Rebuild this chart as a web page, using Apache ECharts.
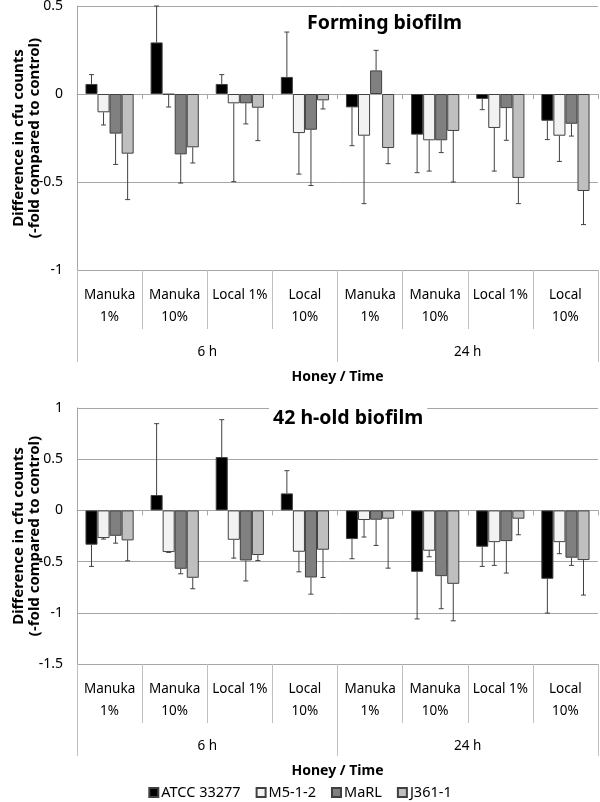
<!DOCTYPE html>
<html>
<head>
<meta charset="utf-8">
<script src="https://cdn.jsdelivr.net/npm/echarts@6/dist/echarts.min.js"></script>
<style>
html,body{margin:0;padding:0;background:#fff;}
#main{width:600px;height:802px;}
</style>
</head>
<body>
<div id="main"></div>
<script>
// ---- data ----
const categories = ['Manuka\n1%', 'Manuka\n10%', 'Local 1%', 'Local\n10%', 'Manuka\n1%', 'Manuka\n10%', 'Local 1%', 'Local\n10%'];
const timeLabels = ['6 h', '24 h'];
const strains = ['ATCC 33277', 'M5-1-2', 'MaRL', 'J361-1'];

// Forming biofilm (top)
const formATCC = [0.057, 0.293, 0.057, 0.097, -0.076, -0.231, -0.028, -0.152];
const formM5   = [-0.104, -0.003, -0.053, -0.222, -0.237, -0.263, -0.193, -0.237];
const formMaRL = [-0.225, -0.343, -0.053, -0.203, 0.134, -0.263, -0.080, -0.169];
const formJ361 = [-0.339, -0.303, -0.078, -0.036, -0.307, -0.210, -0.477, -0.551];
const formErrATCC = [0.053, 0.207, 0.053, 0.255, 0.218, 0.216, 0.061, 0.107];
const formErrM5   = [0.072, 0.071, 0.445, 0.233, 0.386, 0.175, 0.245, 0.146];
const formErrMaRL = [0.175, 0.163, 0.117, 0.317, 0.114, 0.070, 0.183, 0.070];
const formErrJ361 = [0.261, 0.089, 0.187, 0.049, 0.089, 0.290, 0.146, 0.191];

// 42 h-old biofilm (bottom)
const oldATCC = [-0.335, 0.150, 0.521, 0.166, -0.280, -0.600, -0.355, -0.668];
const oldM5   = [-0.270, -0.407, -0.287, -0.404, -0.094, -0.394, -0.310, -0.310];
const oldMaRL = [-0.248, -0.570, -0.489, -0.655, -0.091, -0.642, -0.300, -0.462];
const oldJ361 = [-0.293, -0.658, -0.436, -0.384, -0.081, -0.717, -0.081, -0.485];
const oldErrATCC = [0.212, 0.697, 0.365, 0.222, 0.192, 0.460, 0.192, 0.335];
const oldErrM5   = [0.010, 0.003, 0.179, 0.196, 0.166, 0.059, 0.227, 0.113];
const oldErrMaRL = [0.072, 0.049, 0.200, 0.163, 0.251, 0.318, 0.312, 0.075];
const oldErrJ361 = [0.199, 0.107, 0.054, 0.271, 0.483, 0.361, 0.157, 0.342];

// ---- styling ----
const colors = ['#000000', '#f2f2f2', '#808080', '#bfbfbf'];
const FONT = 'Noto Sans';
const GAP = 0.26;
const gridCol = '#a6a6a6';
const divCol = '#c0c0c0';

const chart = echarts.init(document.getElementById('main'));

const panels = [
  { vals: [formATCC, formM5, formMaRL, formJ361], errs: [formErrATCC, formErrM5, formErrMaRL, formErrJ361],
    min: -1, max: 0.5, top: 6, height: 264, title: 'Forming biofilm', titleLeft: 303, titleTop: 9 },
  { vals: [oldATCC, oldM5, oldMaRL, oldJ361], errs: [oldErrATCC, oldErrM5, oldErrMaRL, oldErrJ361],
    min: -1.5, max: 1, top: 408, height: 256, title: '42 h-old biofilm', titleLeft: 269, titleTop: 404 }
];

const grid = [], xAxis = [], yAxis = [], series = [], title = [];
panels.forEach((p, gi) => {
  grid.push({ left: 77, width: 521, top: p.top, height: p.height, outerBoundsMode: 'none', containLabel: false });
  title.push({ text: p.title, left: p.titleLeft, top: p.titleTop, padding: [4, 4],
    backgroundColor: '#fff', textStyle: { fontFamily: FONT, fontWeight: 'bold', fontSize: 19.5, color: '#000' } });
  const xb = xAxis.length;
  // bars axis at zero
  xAxis.push({ type: 'category', gridIndex: gi, data: categories,
    axisLine: { onZero: true, lineStyle: { color: gridCol } },
    axisTick: { show: true, length: 5, lineStyle: { color: gridCol } },
    axisLabel: { show: false } });
  // level-1 labels
  xAxis.push({ type: 'category', gridIndex: gi, data: categories, position: 'bottom',
    axisLine: { show: false, onZero: false },
    axisTick: { show: true, length: 59, lineStyle: { color: divCol } },
    axisLabel: { interval: 0, margin: 14, fontFamily: FONT, fontSize: 13.5, lineHeight: 22, color: '#000' } });
  // level-2 labels
  xAxis.push({ type: 'category', gridIndex: gi, data: timeLabels, position: 'bottom',
    axisLine: { show: false, onZero: false },
    axisTick: { show: true, length: 92, lineStyle: { color: divCol } },
    axisLabel: { interval: 0, margin: 75, fontFamily: FONT, fontSize: 13.5, color: '#000' },
    name: 'Honey / Time', nameLocation: 'middle', nameGap: 100, nameMoveOverlap: false,
    nameTextStyle: { fontFamily: FONT, fontSize: 14, fontWeight: 'bold', color: '#000' } });
  yAxis.push({ type: 'value', gridIndex: gi, min: p.min, max: p.max, interval: 0.5,
    axisLine: { show: true, lineStyle: { color: gridCol } },
    axisTick: { show: false },
    splitLine: { lineStyle: { color: gridCol } },
    axisLabel: { margin: 14, fontFamily: FONT, fontSize: 14, color: '#000' },
    name: 'Difference in cfu counts\n(-fold compared to control)', nameLocation: 'middle', nameGap: 34,
    nameMoveOverlap: false,
    nameTextStyle: { fontFamily: FONT, fontSize: 15, fontWeight: 'bold', color: '#000', lineHeight: 16 } });

  p.vals.forEach((arr, k) => {
    series.push({ type: 'bar', name: strains[k], xAxisIndex: xb, yAxisIndex: gi, data: arr,
      barGap: '0%', barCategoryGap: (GAP * 100) + '%',
      itemStyle: { color: colors[k], borderColor: '#404040', borderWidth: 1 } });
  });
  p.vals.forEach((arr, k) => {
    const errs = p.errs[k];
    series.push({ type: 'custom', xAxisIndex: xb, yAxisIndex: gi, silent: true,
      data: arr.map((v, i) => [i, v, errs[i]]),
      renderItem: function (params, api) {
        const i = api.value(0), v = api.value(1), e = api.value(2);
        const band = api.size([1, 0])[0];
        const bw = band * (1 - GAP) / 4;
        const c = api.coord([i, v]);
        const x = c[0] + (k - 1.5) * bw;
        const sign = v >= 0 ? 1 : -1;
        const yEnd = api.coord([i, v + sign * e])[1];
        const st = { stroke: '#404040', lineWidth: 1 };
        return { type: 'group', children: [
          { type: 'line', shape: { x1: x, y1: c[1], x2: x, y2: yEnd }, style: st },
          { type: 'line', shape: { x1: x - 2.5, y1: yEnd, x2: x + 2.5, y2: yEnd }, style: st }
        ] };
      }, z: 3 });
  });
});

chart.setOption({
  animation: false,
  backgroundColor: '#fff',
  title: title,
  grid: grid, xAxis: xAxis, yAxis: yAxis, series: series,
  legend: { data: strains, top: 780, left: 'center', itemWidth: 9, itemHeight: 9, itemGap: 15,
    icon: 'rect',
    textStyle: { fontFamily: FONT, fontSize: 14.5, color: '#000', padding: [0, 0, 0, -2] } }
});
</script>
</body>
</html>
